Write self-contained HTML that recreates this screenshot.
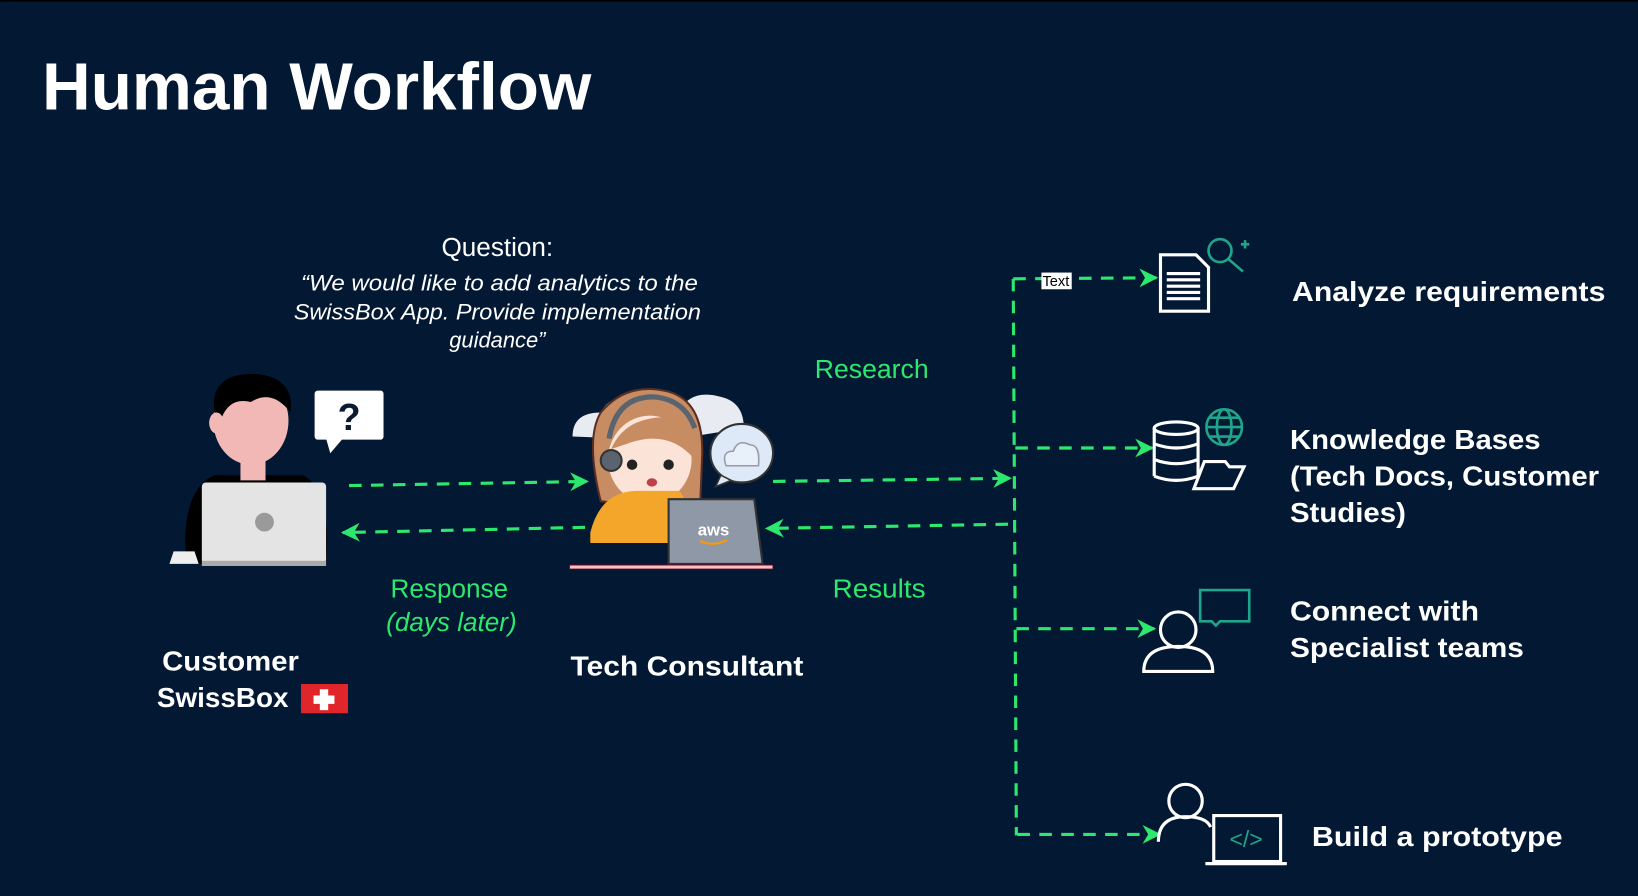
<!DOCTYPE html>
<html><head><meta charset="utf-8"><style>
html,body{margin:0;padding:0;background:#021833;}
svg{display:block}
text{font-family:"Liberation Sans",sans-serif}
</style></head><body>
<svg width="1638" height="896" viewBox="0 0 1568 858" xmlns="http://www.w3.org/2000/svg">
<defs>
<marker id="ah" viewBox="0 0 10 10" refX="9" refY="5" markerWidth="18" markerHeight="18" orient="auto" markerUnits="userSpaceOnUse">
<path d="M0,0 L10,5 L0,10 L3,5z" fill="#2ee86e"/>
</marker>
</defs>
<rect width="1568" height="858" fill="#021833"/>
<rect width="1568" height="1.5" fill="#000"/>
<text x="40" y="105" font-size="64" font-weight="bold" fill="#fff" textLength="526" lengthAdjust="spacingAndGlyphs">Human Workflow</text>

<text x="476" y="245" font-size="25" fill="#fff" text-anchor="middle">Question:</text>
<g font-size="21" font-style="italic" fill="#fff" text-anchor="middle">
<text x="478" y="278" textLength="380" lengthAdjust="spacingAndGlyphs">“We would like to add analytics to the</text>
<text x="476" y="306" textLength="390" lengthAdjust="spacingAndGlyphs">SwissBox App. Provide implementation</text>
<text x="476" y="333">guidance”</text>
</g>

<g>
<path d="M178,540 Q172,470 205,455 L290,455 Q318,470 312,540Z" fill="#000"/>
<rect x="230" y="425" width="24" height="35" fill="#f2b8b5"/>
<ellipse cx="240" cy="403" rx="36" ry="42" fill="#f2b8b5"/>
<path d="M205,395 Q200,358 242,358 Q282,360 278,395 Q260,372 240,385 Q220,380 212,400Z" fill="#000"/>
<ellipse cx="207" cy="405" rx="7" ry="10" fill="#f2b8b5"/>
<rect x="193" y="462" width="119" height="78" rx="4" fill="#e4e4e4"/>
<rect x="193" y="537" width="119" height="5" fill="#aaa"/>
<circle cx="253" cy="500" r="9" fill="#9a9a9a"/>
<path d="M162,540 L190,540 L186,528 L166,528Z" fill="#eee"/>
<rect x="301" y="374" width="66" height="47" rx="3" fill="#fff"/>
<path d="M312,420 L316,434 L328,420Z" fill="#fff"/>
<text x="334" y="412" font-size="36" font-weight="bold" fill="#0a1a30" text-anchor="middle">?</text>
</g>

<g>
<path d="M548,418 Q548,395 575,395 Q585,375 610,385 L600,420Z" fill="#e8ecf2"/>
<path d="M650,395 Q660,372 690,380 Q712,385 712,410 L650,420Z" fill="#e8ecf2"/>
<path d="M575,480 Q560,420 575,395 Q600,365 640,375 Q675,385 672,440 L670,490Z" fill="#c78c62" stroke="#5a2e24" stroke-width="2"/>
<ellipse cx="622" cy="440" rx="40" ry="42" fill="#fbe3d8"/>
<path d="M585,430 Q600,395 650,400 Q660,420 665,440 Q640,410 600,425Z" fill="#c78c62"/>
<path d="M565,510 Q575,470 610,470 L650,470 Q660,480 660,520 L565,520Z" fill="#f4a62a"/>
<circle cx="605" cy="445" r="5" fill="#222"/><circle cx="640" cy="445" r="5" fill="#222"/>
<ellipse cx="624" cy="462" rx="5" ry="4" fill="#c0404a"/>
<circle cx="585" cy="441" r="10" fill="#5a6470" stroke="#333" stroke-width="2"/>
<path d="M583,420 Q590,380 625,380 Q655,382 665,410" stroke="#5a6470" stroke-width="5" fill="none"/>
<path d="M640,478 L722,478 L730,540 L640,540Z" fill="#8e98a6" stroke="#333" stroke-width="2"/>
<text x="683" y="513" font-size="16" font-weight="bold" fill="#fff" text-anchor="middle">aws</text>
<path d="M670,518 Q683,524 696,517" stroke="#f90" stroke-width="2" fill="none"/>
<rect x="545" y="541" width="195" height="4" fill="#f5c2c2" stroke="#602" stroke-width="1"/>
<ellipse cx="710" cy="434" rx="30" ry="28" fill="#dde9f6" stroke="#333" stroke-width="2"/>
<path d="M690,455 L685,466 L700,460Z" fill="#dde9f6" stroke="#333" stroke-width="1.5"/>
<path d="M695,446 Q690,432 702,432 Q706,420 718,426 Q728,426 726,446Z" fill="#e8f0fa" stroke="#99a" stroke-width="1.5"/>
</g>

<g stroke="#2ee86e" stroke-width="3" stroke-dasharray="12,9" fill="none">
<line x1="334" y1="465" x2="562" y2="461" marker-end="url(#ah)"/>
<line x1="560" y1="505" x2="328" y2="510" marker-end="url(#ah)"/>
<line x1="740" y1="461" x2="967" y2="458" marker-end="url(#ah)"/>
<line x1="965" y1="502" x2="734" y2="506" marker-end="url(#ah)"/>
<path d="M970,267 L973,800"/>
<line x1="970" y1="267" x2="1107" y2="266" marker-end="url(#ah)"/>
<line x1="972" y1="429" x2="1103" y2="429" marker-end="url(#ah)"/>
<line x1="973" y1="602" x2="1105" y2="602" marker-end="url(#ah)"/>
<line x1="974" y1="799" x2="1110" y2="799" marker-end="url(#ah)"/>
</g>
<rect x="997" y="261" width="29" height="16" fill="#fff"/>
<text x="998" y="274" font-size="14" fill="#000">Text</text>

<g font-size="25" fill="#2ee86e">
<text x="780" y="362" textLength="109" lengthAdjust="spacingAndGlyphs">Research</text>
<text x="797" y="572" textLength="89" lengthAdjust="spacingAndGlyphs">Results</text>
<text x="430" y="572" text-anchor="middle">Response</text>
<text x="432" y="604" text-anchor="middle" font-style="italic">(days later)</text>
</g>

<g font-size="27" font-weight="bold" fill="#fff" lengthAdjust="spacingAndGlyphs">
<text x="155" y="642" textLength="131" lengthAdjust="spacingAndGlyphs">Customer</text>
<text x="150" y="677" textLength="126" lengthAdjust="spacingAndGlyphs">SwissBox</text>
<text x="546" y="647" textLength="223" lengthAdjust="spacingAndGlyphs">Tech Consultant</text>
<text x="1237" y="288" textLength="300" lengthAdjust="spacingAndGlyphs">Analyze requirements</text>
<text x="1235" y="430" textLength="240" lengthAdjust="spacingAndGlyphs">Knowledge Bases</text>
<text x="1235" y="465" textLength="296" lengthAdjust="spacingAndGlyphs">(Tech Docs, Customer</text>
<text x="1235" y="500" textLength="111" lengthAdjust="spacingAndGlyphs">Studies)</text>
<text x="1235" y="594" textLength="181" lengthAdjust="spacingAndGlyphs">Connect with</text>
<text x="1235" y="629" textLength="224" lengthAdjust="spacingAndGlyphs">Specialist teams</text>
<text x="1256" y="810" textLength="240" lengthAdjust="spacingAndGlyphs">Build a prototype</text>
</g>
<rect x="288" y="655" width="45" height="28" fill="#e0262a"/>
<path d="M306,660h8v6h6v8h-6v6h-8v-6h-6v-8h6z" fill="#fff"/>

<g stroke="#fff" stroke-width="3" fill="none">
<path d="M1111,244 L1145,244 L1157,256 L1157,298 L1111,298Z"/>
<path d="M1117,262 h32 M1117,268 h32 M1117,274 h32 M1117,280 h32 M1117,286 h32"/>
<ellipse cx="1126" cy="410" rx="21" ry="6"/>
<path d="M1105,410 v46 M1147,410 v46 M1105,425 q21,8 42,0 M1105,440 q21,8 42,0 M1105,456 q21,8 42,0"/>
<path d="M1143,468 l10,-26 l20,0 l4,5 l14,0 l-10,21z"/>
<circle cx="1128" cy="603" r="17"/>
<path d="M1095,643 q0,-24 33,-24 q33,0 33,24z"/>
<circle cx="1135" cy="767" r="16"/>
<path d="M1109,806 q0,-24 26,-24 q20,0 24,10"/>
<rect x="1162" y="781" width="64" height="44"/>
<path d="M1154,827 h78"/>
</g>
<g stroke="#1fa58a" stroke-width="2.5" fill="none">
<circle cx="1168" cy="240" r="11"/><path d="M1176,248 l14,12 M1188,234 h8 M1192,230 v8"/>
<circle cx="1172" cy="409" r="17"/><ellipse cx="1172" cy="409" rx="7" ry="17"/><path d="M1155,409 h34 M1158,400 h28 M1158,418 h28"/>
<path d="M1149,565 h47 v30 h-28 l-4,4 l-4,-4 h-11z"/>
<text x="1193" y="811" font-size="22" fill="#1fa58a" stroke="none" text-anchor="middle">&lt;/&gt;</text>
</g>
</svg>
</body></html>
